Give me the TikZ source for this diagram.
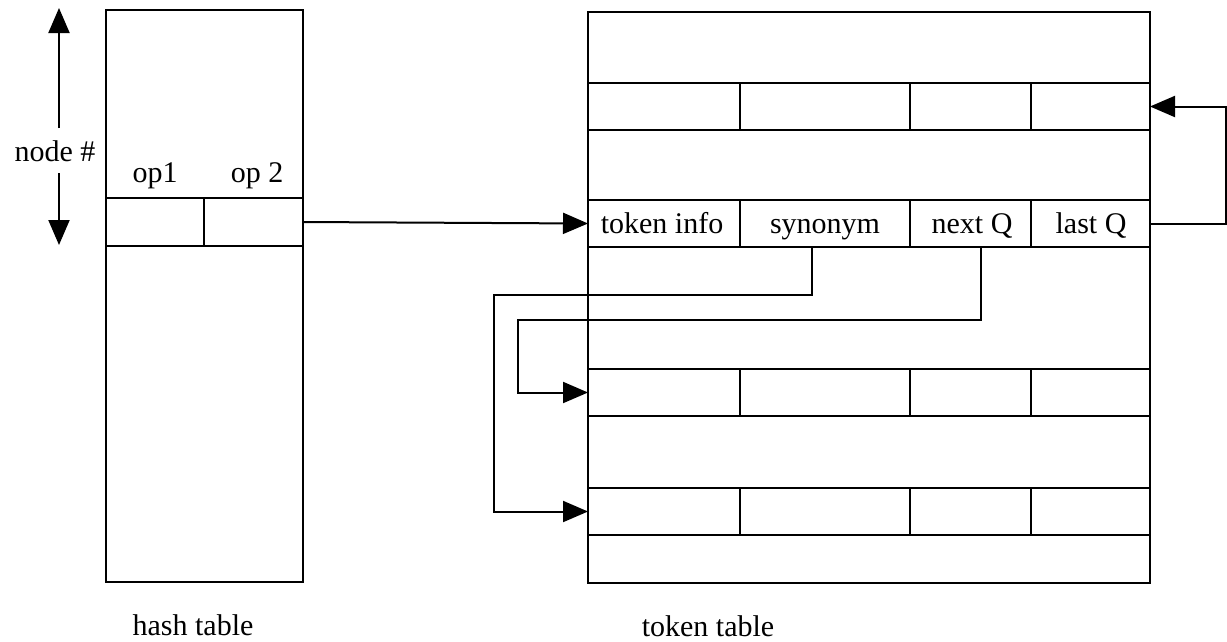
\documentclass[tikz,border=0pt]{standalone}
\usepackage{fontspec}
\setmainfont{Liberation Serif}
\usetikzlibrary{arrows.meta}
\begin{document}
\begin{tikzpicture}[x=1pt,y=-1pt, line width=2pt,
  box/.style={draw, rectangle, inner sep=0pt, outer sep=0pt, anchor=north west, line width=2pt},
  lbl/.style={font=\fontsize{30}{36}\selectfont, inner sep=0pt, anchor=base},
  arr/.style={-{Triangle[length=25pt,width=21pt]}, line width=2pt}]
\fill[white] (0,0) rectangle (1227,641);
\useasboundingbox (0,0) rectangle (1227,641);

% hash table
\node[box, minimum width=197pt, minimum height=572pt] (ht) at (106,10) {};
\node[box, minimum width=98pt, minimum height=48pt] (op1) at (106,198) {};
\node[box, minimum width=99pt, minimum height=48pt] (op2) at (204,198) {};
\node[lbl] (op1t) at (155,182) {op1};
\node[lbl] (op2t) at (257,182) {op 2};
\node[lbl] (nn) at (55,161) {node \#};
\coordinate (nu0) at (59,128);
\coordinate (nu1) at (59,8);
\coordinate (nd0) at (59,173);
\coordinate (nd1) at (59,245);
\draw[arr] (nu0) -- (nu1);
\draw[arr] (nd0) -- (nd1);
\node[lbl] (htl) at (193,635) {hash table};

% token table
\node[box, minimum width=562pt, minimum height=571pt] (tt) at (588,12) {};
\foreach \r/\y in {1/83,2/200,3/369,4/488}{
  \node[box, minimum width=152pt, minimum height=47pt] (r\r-1) at (588,\y) {};
  \node[box, minimum width=170pt, minimum height=47pt] (r\r-2) at (740,\y) {};
  \node[box, minimum width=121pt, minimum height=47pt] (r\r-3) at (910,\y) {};
  \node[box, minimum width=119pt, minimum height=47pt] (r\r-4) at (1031,\y) {};
}
\node[lbl] (ti) at (662,233) {token info};
\node[lbl] (sy) at (825,233) {synonym};
\node[lbl] (nq) at (972,233) {next Q};
\node[lbl] (lq) at (1091,233) {last Q};
\node[lbl] (ttl) at (708,636) {token table};

% connectors
\draw[arr] (op2.east) -- (r2-1.west);
\draw[arr] (r2-4.east) -- ++(76,0) |- (r1-4.east);
\draw[arr] ([xshift=-13pt]r2-2.south) -- ++(0,48) -| ([xshift=-94pt]r4-1.west) -- (r4-1.west);
\draw[arr] ([xshift=10.5pt]r2-3.south) -- ++(0,73) -| ([xshift=-70pt]r3-1.west) -- (r3-1.west);
\end{tikzpicture}
\end{document}
